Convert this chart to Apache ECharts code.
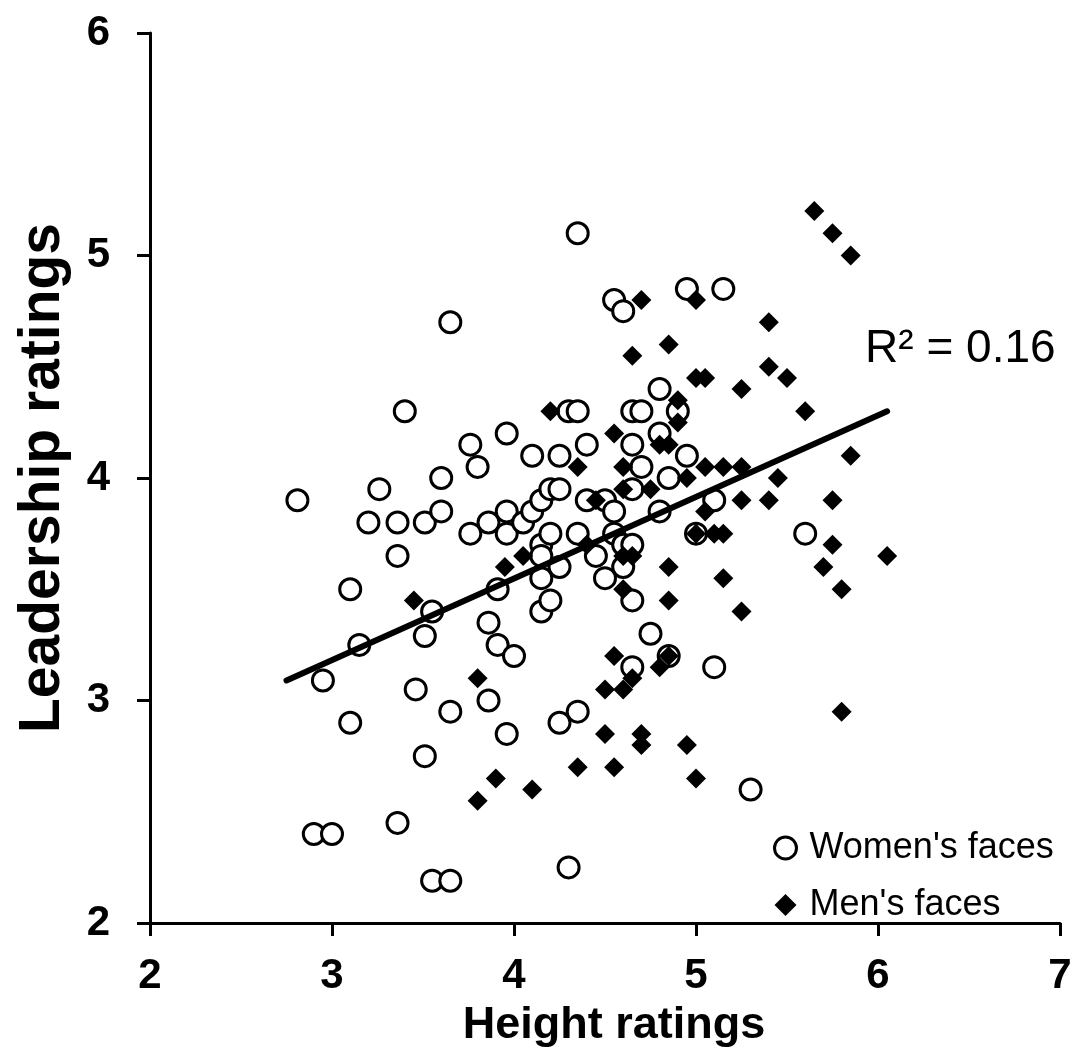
<!DOCTYPE html>
<html>
<head>
<meta charset="utf-8">
<script src="https://cdn.jsdelivr.net/npm/echarts@6/dist/echarts.min.js"></script>
<style>html,body{margin:0;padding:0;background:#fff}#c{width:1077px;height:1059px}</style>
</head>
<body>
<div id="c"></div>
<script>
// Women's faces (open circles)
const womenX = [2.81,2.95,3.10,3.10,2.90,3.00,3.15,3.26,3.20,3.36,3.36,3.40,3.36,3.51,3.51,3.55,3.46,3.51,3.55,3.65,
  3.65,3.60,3.60,3.65,3.76,3.76,3.80,3.86,3.86,3.86,3.91,3.91,3.96,3.96,3.96,3.96,4.00,4.05,4.10,4.10,
  4.15,4.15,4.15,4.15,4.15,4.20,4.20,4.20,4.25,4.25,4.25,4.25,4.30,4.30,4.35,4.35,4.35,4.35,4.40,4.40,
  4.45,4.50,4.50,4.55,4.55,4.55,4.60,4.60,4.60,4.65,4.65,4.65,4.65,4.65,4.65,4.70,4.70,4.75,4.80,4.80,
  4.80,4.85,4.85,4.90,4.95,4.95,5.00,5.10,5.10,5.15,5.30,5.60];
const womenY = [3.90,3.09,3.50,2.90,2.40,2.40,3.25,3.95,3.80,3.80,3.65,4.30,2.45,3.80,3.29,3.40,3.05,2.75,2.19,2.19,
  4.70,4.00,3.85,2.95,4.15,3.75,4.05,3.80,3.35,3.00,3.50,3.25,3.85,4.20,3.75,2.85,3.20,3.80,4.10,3.85,
  3.90,3.70,3.65,3.55,3.40,3.95,3.75,3.45,2.90,3.60,4.10,3.95,4.30,2.25,5.10,4.30,3.75,2.95,4.15,3.90,
  3.65,3.55,3.90,3.75,3.85,4.80,4.75,3.70,3.60,4.30,4.15,3.95,3.70,3.45,3.15,4.30,4.05,3.30,4.40,4.20,
  3.85,4.00,3.20,4.30,4.85,4.10,3.75,3.90,3.15,4.85,2.60,3.75];
// Men's faces (filled diamonds)
const menX = [3.45,3.80,3.80,3.90,4.10,4.05,3.95,4.20,4.35,4.35,4.40,4.45,4.50,4.50,4.55,4.55,4.55,4.60,4.60,4.60,
  4.60,4.60,4.65,4.65,4.65,4.70,4.70,4.70,4.75,4.80,4.80,4.85,4.85,4.85,4.85,4.85,4.90,4.90,4.95,4.95,
  5.00,5.00,5.00,5.00,5.05,5.05,5.05,5.10,5.15,5.15,5.15,5.25,5.25,5.25,5.25,5.40,5.40,5.40,5.45,5.50,
  5.60,5.65,5.75,5.85,5.75,5.75,5.70,5.85,5.80,5.80,6.05];
const menY = [3.45,3.10,2.55,2.65,2.60,3.65,3.60,4.30,2.70,4.05,3.70,3.90,3.05,2.85,4.20,3.20,2.70,4.05,3.95,3.65,
  3.50,3.05,4.55,3.65,3.10,4.80,2.85,2.80,3.95,3.15,4.15,4.60,4.15,3.60,3.45,3.20,4.35,4.25,2.80,4.00,
  4.80,4.45,2.65,3.75,4.45,4.05,3.85,3.75,4.05,3.75,3.55,4.40,4.05,3.90,3.40,4.70,4.50,3.90,4.00,4.45,
  4.30,5.20,5.10,5.00,3.90,3.70,3.60,4.10,3.50,2.95,3.65];
// Linear trend line end points
const trendX = [2.75, 6.05];
const trendY = [3.09, 4.30];
const xTicks = [2,3,4,5,6,7];
const yTicks = [2,3,4,5,6];
const r2Label = 'R² = 0.16';

const zip = (a,b) => a.map((v,i) => [v, b[i]]);
const FONT = '"Liberation Sans", Arial, sans-serif';

const chart = echarts.init(document.getElementById('c'), null, {renderer:'canvas'});
chart.setOption({
  animation: false,
  backgroundColor: '#fff',
  grid: {left:150, right:17, top:33, bottom:136, containLabel:false},
  xAxis: {
    type:'value', min:xTicks[0], max:xTicks[xTicks.length-1], interval:1,
    name:'Height ratings', nameLocation:'middle', nameGap:80,
    nameTextStyle:{fontFamily:FONT, fontWeight:'bold', fontSize:45, color:'#000', padding:[0,0,0,18]},
    axisLine:{show:true, onZero:false, lineStyle:{color:'#000', width:3}},
    axisTick:{show:true, length:13, lineStyle:{color:'#000', width:3}},
    axisLabel:{fontFamily:FONT, fontWeight:'bold', fontSize:42, color:'#000', margin:32},
    splitLine:{show:false}
  },
  yAxis: {
    type:'value', min:yTicks[0], max:yTicks[yTicks.length-1], interval:1,
    name:'Leadership ratings', nameLocation:'middle', nameGap:78,
    nameTextStyle:{fontFamily:FONT, fontWeight:'bold', fontSize:57, color:'#000'},
    axisLine:{show:true, onZero:false, lineStyle:{color:'#000', width:3}},
    axisTick:{show:true, length:13, lineStyle:{color:'#000', width:3}},
    axisLabel:{fontFamily:FONT, fontWeight:'bold', fontSize:42, color:'#000', margin:40},
    splitLine:{show:false}
  },
  legend: {
    orient:'vertical', left:768, top:825, itemGap:21, itemWidth:22, itemHeight:22,
    textStyle:{fontFamily:FONT, fontSize:36, lineHeight:36, color:'#000', padding:[0,0,0,8]},
    data:[
      {name:"Women's faces", icon:'circle', itemStyle:{color:'#fff', borderColor:'#000', borderWidth:3}},
      {name:"Men's faces", icon:'diamond', itemStyle:{color:'#000', borderWidth:0}}
    ]
  },
  series: [
    {
      name:"Women's faces", type:'scatter', symbol:'circle', symbolSize:21,
      itemStyle:{color:'#fff', borderColor:'#000', borderWidth:3, opacity:1},
      data: zip(womenX, womenY), z:2
    },
    {
      name:"Men's faces", type:'scatter', symbol:'diamond', symbolSize:20,
      itemStyle:{color:'#000', opacity:1},
      data: zip(menX, menY), z:3
    },
    {
      name:'trend', type:'line', data: zip(trendX, trendY), symbol:'none',
      lineStyle:{color:'#000', width:6, cap:'round'}, z:4, silent:true,
      endLabel:{show:true, formatter:r2Label, fontFamily:FONT, fontSize:46, color:'#000',
        offset:[-30,-62], align:'left'}
    }
  ]
});
</script>
</body>
</html>
